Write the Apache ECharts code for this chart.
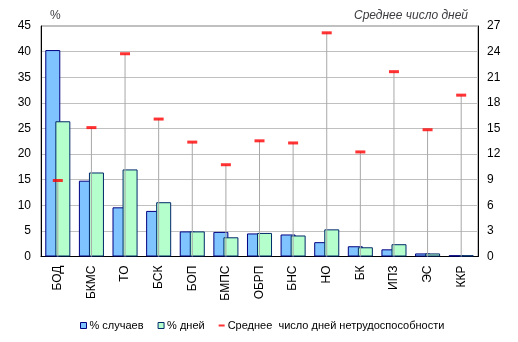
<!DOCTYPE html>
<html><head><meta charset="utf-8">
<script src="https://cdn.jsdelivr.net/npm/echarts@6/dist/echarts.min.js"></script>
<style>html,body{margin:0;padding:0;background:#fff}#c{width:518px;height:342px}</style>
</head><body><div id="c"></div>
<script>
var categories = ['БОД','БКМС','ТО','БСК','БОП','БМПС','ОБРП','БНС','НО','БК','ИПЗ','ЭС','ККР'];
var casesPct = [40.3, 14.8, 9.6, 8.9, 4.9, 4.8, 4.5, 4.3, 2.8, 2.0, 1.4, 0.6, 0.25];
var daysPct = [26.4, 16.4, 17.0, 10.6, 4.9, 3.75, 4.6, 4.1, 5.3, 1.8, 2.4, 0.6, 0.25];
var avgDays = [8.9, 15.1, 23.75, 16.1, 13.4, 10.75, 13.55, 13.3, 26.2, 12.25, 21.65, 14.85, 18.9];
var leftTicks = [0,5,10,15,20,25,30,35,40,45];
var rightTicks = [0,3,6,9,12,15,18,21,24,27];

var font = 'Arial, "Liberation Sans", sans-serif';
var chart = echarts.init(document.getElementById('c'), null, {renderer:'canvas'});
chart.setOption({
  animation:false,
  textStyle:{fontFamily:font, color:'#000'},
  grid:{left:41, right:40, top:26, bottom:85.5, show:true, borderColor:'#808080', borderWidth:1},
  title:[
    {text:'%', left:45, top:5, textStyle:{fontSize:12, fontWeight:'normal', fontFamily:font}},
    {text:'Среднее число дней', right:45, top:5, textStyle:{fontSize:12, fontWeight:'normal', fontStyle:'italic', fontFamily:font}}
  ],
  legend:{
    bottom:6, left:75, itemWidth:6, itemHeight:6, itemGap:14,
    textStyle:{fontSize:11, fontFamily:font, color:'#000', padding:[0,0,0,-2]},
    data:[
      {name:'% случаев', icon:'rect', itemStyle:{borderWidth:1}},
      {name:'% дней', icon:'rect', itemStyle:{borderWidth:1}},
      {name:'Среднее  число дней нетрудоспособности', icon:'path://M0,2H6V4H0Z'}
    ]
  },
  xAxis:[
    {type:'category', data:categories, boundaryGap:true,
     axisLine:{lineStyle:{color:'#000', width:1}}, axisTick:{show:false},
     axisLabel:{rotate:90, fontSize:12, color:'#000', margin:9, fontFamily:font},
     splitLine:{show:false}},
    {type:'category', data:categories, boundaryGap:true, show:false}
  ],
  yAxis:[
    {type:'value', min:0, max:45, interval:5,
     axisLine:{show:true, lineStyle:{color:'#000'}}, axisTick:{show:false},
     axisLabel:{fontSize:12, color:'#000', margin:10, fontFamily:font},
     splitLine:{show:true, lineStyle:{color:'#c0c0c0', width:1}}},
    {type:'value', min:0, max:27, interval:3, position:'right',
     axisLine:{show:true, lineStyle:{color:'#000'}}, axisTick:{show:false},
     axisLabel:{fontSize:12, color:'#000', margin:9, fontFamily:font},
     splitLine:{show:false}}
  ],
  series:[
    {name:'% случаев', type:'bar', xAxisIndex:0, yAxisIndex:0, data:casesPct, barWidth:15, barGap:'-33%',
     itemStyle:{color:'#80c4ff', borderColor:'#000080', borderWidth:1}, z:2},
    {name:'% дней', type:'bar', xAxisIndex:0, yAxisIndex:0, data:daysPct, barWidth:15, barGap:'-33%',
     itemStyle:{color:'#b4ffcc', borderColor:'#002a6a', borderWidth:1}, z:2},
    {name:'drop', type:'bar', xAxisIndex:1, yAxisIndex:1, data:avgDays, barWidth:1,
     itemStyle:{color:'#a8a8a8'}, z:3, silent:true, legendHoverLink:false},
    {name:'Среднее  число дней нетрудоспособности', type:'scatter', xAxisIndex:0, yAxisIndex:1, data:avgDays,
     symbol:'rect', symbolSize:[10,3], itemStyle:{color:'#ff0000'}, z:4}
  ]
});
</script></body></html>
